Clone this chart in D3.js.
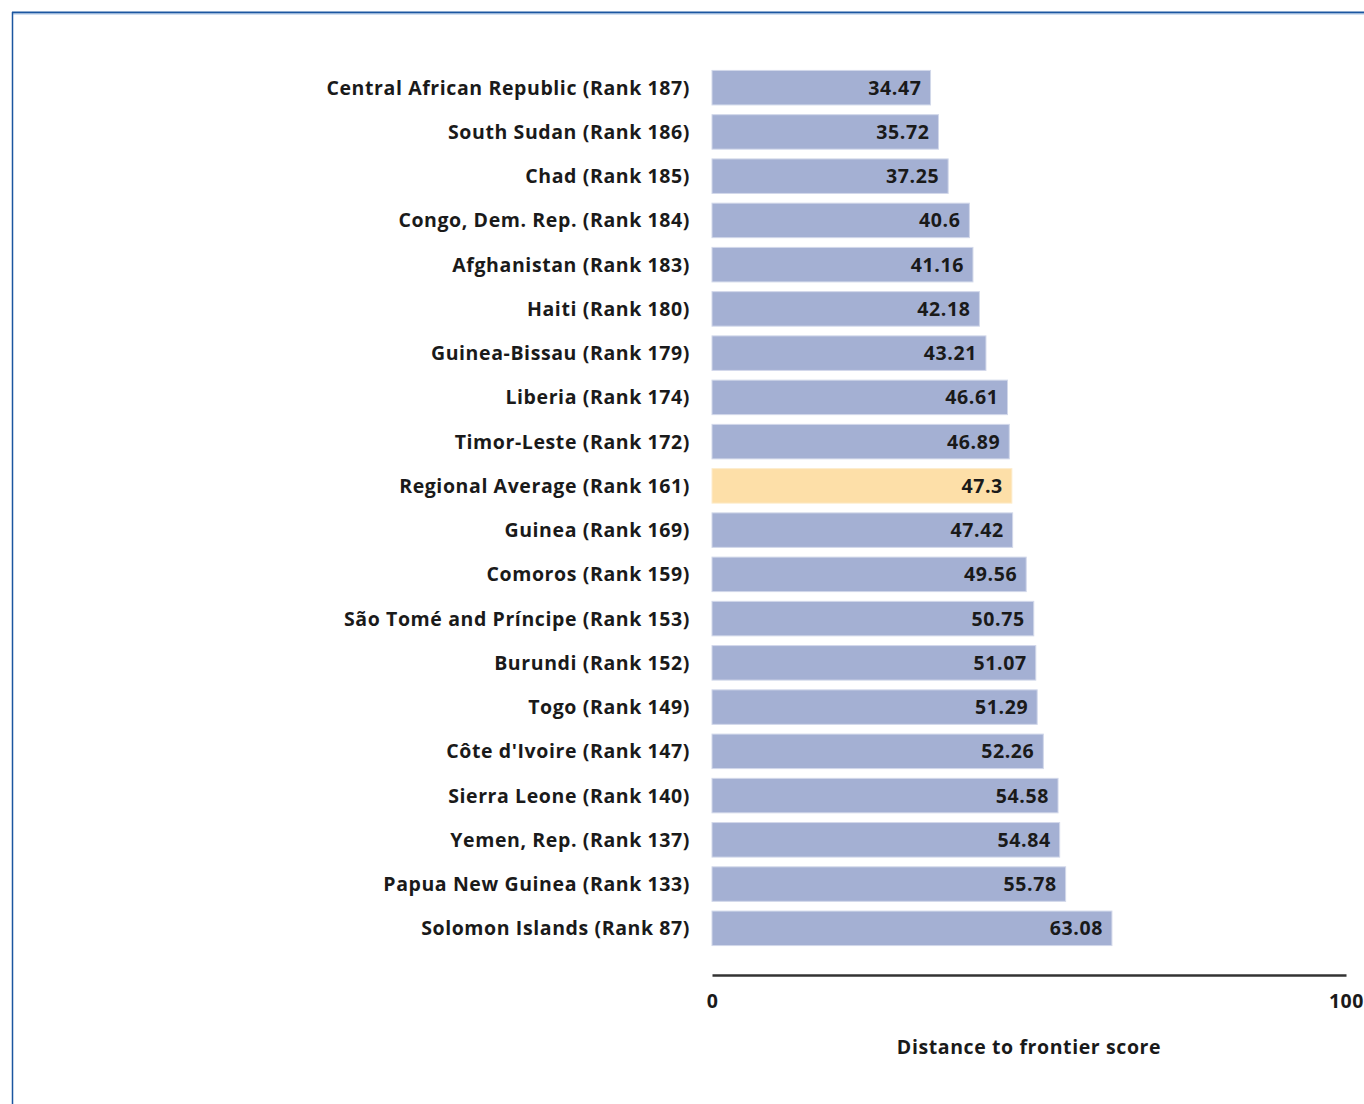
<!DOCTYPE html>
<html>
<head>
<meta charset="utf-8">
<script src="https://cdn.jsdelivr.net/npm/d3@7"></script>
<style>
  body { margin: 0; background: #fff; }
  svg { display: block; }
</style>
</head>
<body>
<div id="chart"></div>
<script>
var w = 1364;
var h = 1104;

// Data =======================================================
var countries = ["Central African Republic (Rank 187)", "South Sudan (Rank 186)", "Chad (Rank 185)",
  "Congo, Dem. Rep. (Rank 184)", "Afghanistan (Rank 183)", "Haiti (Rank 180)", "Guinea-Bissau (Rank 179)",
  "Liberia (Rank 174)", "Timor-Leste (Rank 172)", "Regional Average (Rank 161)", "Guinea (Rank 169)",
  "Comoros (Rank 159)", "São Tomé and Príncipe (Rank 153)", "Burundi (Rank 152)", "Togo (Rank 149)",
  "Côte d'Ivoire (Rank 147)", "Sierra Leone (Rank 140)", "Yemen, Rep. (Rank 137)",
  "Papua New Guinea (Rank 133)", "Solomon Islands (Rank 87)"];
var scores = [34.47, 35.72, 37.25, 40.6, 41.16, 42.18, 43.21, 46.61, 46.89, 47.3, 47.42,
  49.56, 50.75, 51.07, 51.29, 52.26, 54.58, 54.84, 55.78, 63.08];
var highlight = "Regional Average (Rank 161)";
var xTicks = [0, 100];
var axisTitle = "Distance to frontier score";
// ============================================================

var font = "'Open Sans', sans-serif";

var svg = d3.select("#chart")
  .append("svg")
  .attr("width", w)
  .attr("height", h);

// frame
svg.append("rect").attr("x", 0).attr("y", 0).attr("width", w).attr("height", h).attr("fill", "white");
svg.append("line").attr("x1", 12).attr("x2", w).attr("y1", 12.5).attr("y2", 12.5)
  .attr("stroke", "#1b56a0").attr("stroke-width", 2);
svg.append("line").attr("x1", 13).attr("x2", w).attr("y1", 14).attr("y2", 14)
  .attr("stroke", "#a9c4e4").attr("stroke-width", 1);
svg.append("line").attr("x1", 12.5).attr("x2", 12.5).attr("y1", 12).attr("y2", h)
  .attr("stroke", "#1b56a0").attr("stroke-width", 1.5);

var x = d3.scaleLinear().domain([0, 100]).range([712, 1346]);
var y = d3.scaleBand().domain(countries).range([66, 950]).paddingInner(0.22).paddingOuter(0.1);

var rows = countries.map(function(c, i) { return { name: c, value: scores[i] }; });

function textStyle(sel) {
  sel.style("font-family", font)
    .style("font-weight", 700)
    .style("font-size", "19.5px")
    .style("letter-spacing", "0.6px")
    .style("fill", "#1a1a1a");
}

var g = svg.append("g");

g.selectAll("rect.bar")
  .data(rows)
  .enter()
  .append("rect")
  .attr("class", "bar")
  .attr("x", x(0))
  .attr("y", function(d) { return y(d.name); })
  .attr("width", function(d) { return x(d.value) - x(0); })
  .attr("height", y.bandwidth())
  .attr("fill", function(d) { return d.name == highlight ? "#fddfa8" : "#a4b0d3"; })
  .attr("stroke", function(d) { return d.name == highlight ? "#fdeccc" : "#d2d8ea"; })
  .attr("stroke-width", 1);

// value labels
g.selectAll("text.val")
  .data(rows)
  .enter()
  .append("text")
  .attr("class", "val")
  .attr("x", function(d) { return x(d.value) - 9; })
  .attr("y", function(d) { return y(d.name) + y.bandwidth() / 2; })
  .attr("dy", "0.36em")
  .attr("text-anchor", "end")
  .call(textStyle)
  .text(function(d) { return d.value; });

// category labels
g.selectAll("text.cat")
  .data(rows)
  .enter()
  .append("text")
  .attr("class", "cat")
  .attr("x", 690)
  .attr("y", function(d) { return y(d.name) + y.bandwidth() / 2; })
  .attr("dy", "0.36em")
  .attr("text-anchor", "end")
  .call(textStyle)
  .text(function(d) { return d.name; });

// x axis
var axis = svg.append("g")
  .attr("transform", "translate(0,975)")
  .call(d3.axisBottom(x).tickValues(xTicks).tickSize(0).tickPadding(19));
axis.select(".domain").attr("stroke", "#333").attr("stroke-width", 2.5);
axis.selectAll("text").call(textStyle);

svg.append("text")
  .attr("x", (x(0) + x(100)) / 2)
  .attr("y", 1054)
  .attr("text-anchor", "middle")
  .call(textStyle)
  .text(axisTitle);
</script>
</body>
</html>
